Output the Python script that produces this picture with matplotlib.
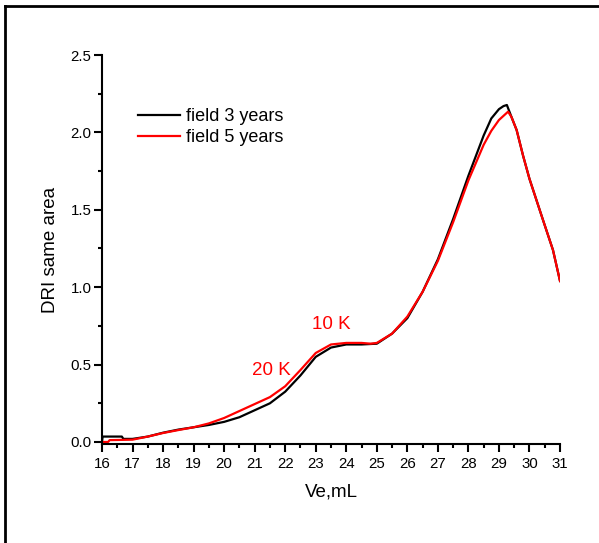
import matplotlib
matplotlib.use("Agg")
import matplotlib.pyplot as plt
from matplotlib.lines import Line2D
from matplotlib.ticker import MultipleLocator

plt.rcParams['font.family'] = ['Liberation Sans', 'DejaVu Sans']

# field 3 years (black)
x3 = [16.0, 16.02, 16.65, 16.7, 17.0, 17.5, 18.0, 18.5, 19.0, 19.5, 20.0, 20.5, 21.0,
      21.5, 22.0, 22.5, 23.0, 23.5, 24.0, 24.5, 25.0, 25.5, 26.0, 26.5, 27.0, 27.5,
      28.0, 28.5, 28.75, 29.0, 29.15, 29.26, 29.41, 29.58, 29.79, 30.0, 30.45, 30.77, 31.0]
y3 = [0.0, 0.035, 0.035, 0.02, 0.02, 0.035, 0.06, 0.08, 0.095, 0.11, 0.13, 0.16, 0.205,
      0.25, 0.325, 0.43, 0.55, 0.61, 0.63, 0.63, 0.635, 0.70, 0.80, 0.97, 1.18, 1.44,
      1.72, 1.98, 2.09, 2.15, 2.17, 2.177, 2.10, 2.015, 1.85, 1.70, 1.43, 1.24, 1.04]

# field 5 years (red)
x5 = [16.0, 16.2, 16.25, 17.0, 17.5, 18.0, 18.5, 19.0, 19.5, 20.0, 20.5, 21.0, 21.5,
      22.0, 22.5, 23.0, 23.5, 24.0, 24.5, 24.8, 25.0, 25.5, 26.0, 26.5, 27.0, 27.5,
      28.0, 28.5, 28.75, 29.0, 29.3, 29.41, 29.58, 29.79, 30.0, 30.45, 30.77, 31.0]
y5 = [0.0, 0.0, 0.012, 0.015, 0.035, 0.058, 0.077, 0.095, 0.12, 0.155, 0.20, 0.245, 0.29,
      0.36, 0.465, 0.575, 0.63, 0.64, 0.64, 0.635, 0.64, 0.70, 0.81, 0.97, 1.17, 1.42,
      1.69, 1.92, 2.01, 2.08, 2.134, 2.10, 2.015, 1.85, 1.70, 1.43, 1.24, 1.04]

labels = ["field 3 years", "field 5 years"]
annotations = [("10 K", 23.5, 0.76), ("20 K", 21.55, 0.46)]

fig = plt.figure(figsize=(5.99, 5.43), dpi=100)
ax = fig.add_axes([102/599, (543-444)/543, (560-102)/599, (444-55)/543])

ax.plot(x3, y3, color='black', lw=1.6, label=labels[0])
ax.plot(x5, y5, color='red', lw=1.6, label=labels[1])

for txt, xx, yy in annotations:
    ax.text(xx, yy, txt, color='red', fontsize=13.5, ha='center', va='center')

ax.set_xlim(16, 31)
ax.set_ylim(-0.013, 2.5)
ax.xaxis.set_major_locator(MultipleLocator(1))
ax.xaxis.set_minor_locator(MultipleLocator(0.5))
ax.yaxis.set_major_locator(MultipleLocator(0.5))
ax.yaxis.set_minor_locator(MultipleLocator(0.25))
ax.yaxis.set_major_formatter(matplotlib.ticker.FormatStrFormatter('%.1f'))

for s in ['top', 'right']:
    ax.spines[s].set_visible(False)
for s in ['left', 'bottom']:
    ax.spines[s].set_linewidth(1.5)

ax.tick_params(which='major', direction='out', length=5.5, width=1.5, labelsize=10.8)
ax.tick_params(which='minor', direction='out', length=3, width=1.5)
ax.tick_params(axis='y', which='major', pad=2)
ax.tick_params(axis='x', which='major', pad=4)

ax.set_xlabel("Ve,mL", fontsize=13.5, labelpad=9)
ax.set_ylabel("DRI same area", fontsize=13.5, labelpad=8)

ax.legend(loc='upper left', bbox_to_anchor=(0.0786, 0.864), frameon=False,
          fontsize=13, handlelength=2.35, handletextpad=0.31, labelspacing=0.24,
          borderpad=0, borderaxespad=0)

# figure frame (left and top edges)
fig.add_artist(Line2D([5/599, 5/599], [0, (543-6)/543], transform=fig.transFigure,
                      color='black', lw=2))
fig.add_artist(Line2D([5/599, 1], [(543-6)/543, (543-6)/543], transform=fig.transFigure,
                      color='black', lw=2))

fig.savefig("out.png", dpi=100)
